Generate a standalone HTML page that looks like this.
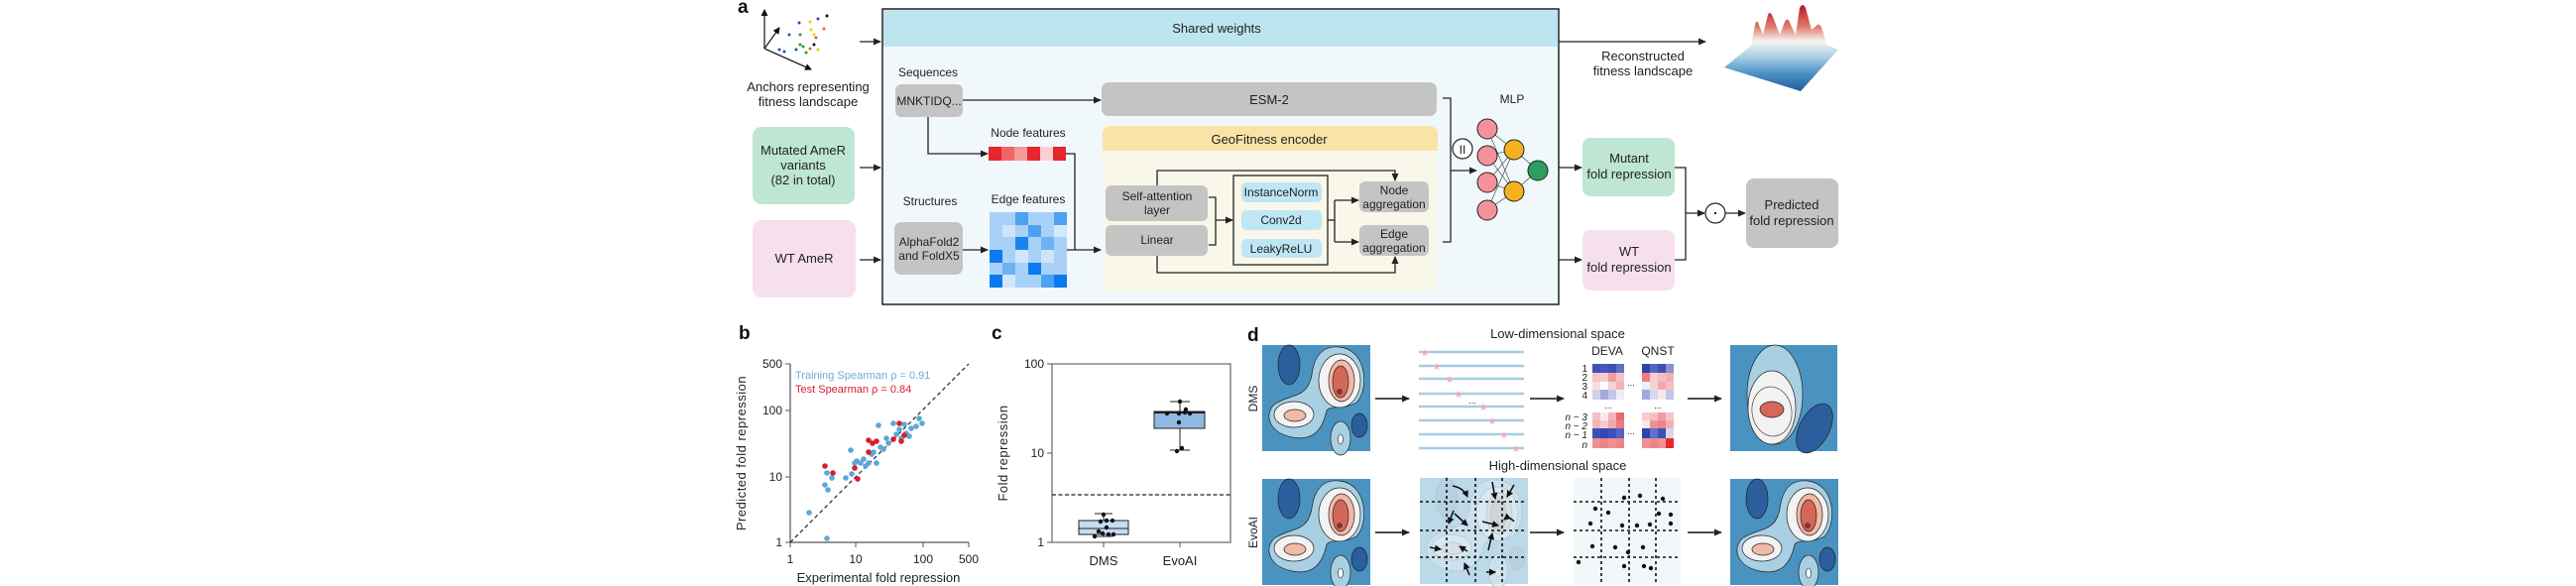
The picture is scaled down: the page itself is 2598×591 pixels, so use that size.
<!DOCTYPE html>
<html><head><meta charset="utf-8"><style>
html,body{margin:0;padding:0;background:#fff;}
svg{display:block;}
text{font-family:"Liberation Sans",Arial,sans-serif;fill:#222;}
</style></head><body>
<svg width="2598" height="591" viewBox="0 0 2598 591" xmlns="http://www.w3.org/2000/svg">
<defs>
<marker id="ah" markerWidth="8" markerHeight="8" refX="7" refY="4" orient="auto" markerUnits="userSpaceOnUse"><path d="M0,0.5 L8,4 L0,7.5 Z" fill="#222"/></marker>
<marker id="ah2" markerWidth="7" markerHeight="7" refX="6" refY="3.5" orient="auto" markerUnits="userSpaceOnUse"><path d="M0,0 L7,3.5 L0,7 Z" fill="#111"/></marker>
<linearGradient id="land" x1="0" y1="0" x2="0" y2="1">
<stop offset="0" stop-color="#b2182b"/><stop offset="0.25" stop-color="#e07a6a"/><stop offset="0.42" stop-color="#f7f4f2"/><stop offset="0.6" stop-color="#a9cfe4"/><stop offset="0.8" stop-color="#4a90c4"/><stop offset="1" stop-color="#1f5d9e"/>
</linearGradient>
<g id="map">
<rect x="0" y="0" width="109" height="107" fill="#4a93c1"/>
<ellipse cx="27" cy="20" rx="11" ry="20" fill="#2b5e9c" stroke="#222" stroke-width="0.7"/>
<path d="M50,30 C45,55 30,48 12,60 C2,70 6,88 30,93 C55,98 62,80 65,66 C70,60 80,66 95,58 C108,45 106,5 78,2 C58,0 52,15 50,30 Z" fill="#a9cfe3" stroke="#222" stroke-width="0.7"/>
<ellipse cx="79" cy="94" rx="10" ry="17" fill="#a9cfe3" stroke="#222" stroke-width="0.7"/>
<ellipse cx="79" cy="95" rx="2.5" ry="5" fill="#fff" stroke="#222" stroke-width="0.6"/>
<ellipse cx="98" cy="81" rx="8" ry="12" fill="#2b5e9c" stroke="#222" stroke-width="0.7"/>
<ellipse cx="78" cy="36" rx="21" ry="27" fill="#f4f3f3" stroke="#222" stroke-width="0.7"/>
<ellipse cx="80" cy="36" rx="13" ry="21" fill="#f2b9a6" stroke="#222" stroke-width="0.7"/>
<ellipse cx="79" cy="37" rx="8" ry="16" fill="#d4675a" stroke="#222" stroke-width="0.7"/>
<circle cx="78" cy="47" r="2.5" fill="#9b2a2a" stroke="#222" stroke-width="0.5"/>
<ellipse cx="32" cy="70" rx="20" ry="13" fill="#f4f3f3" stroke="#222" stroke-width="0.7"/>
<ellipse cx="33" cy="71" rx="11" ry="6" fill="#f2b9a6" stroke="#222" stroke-width="0.7"/>
</g>
</defs>

<!-- ===== Panel a ===== -->
<text x="744" y="13" font-size="19" font-weight="bold" style="fill:#111">a</text>
<line x1="771" y1="49" x2="771" y2="10" stroke="#222" stroke-width="1.3" marker-end="url(#ah2)"/>
<line x1="771" y1="49" x2="818" y2="70" stroke="#222" stroke-width="1.3" marker-end="url(#ah2)"/>
<line x1="771" y1="49" x2="786" y2="28" stroke="#222" stroke-width="1.3" marker-end="url(#ah2)"/>
<g>
<circle cx="806" cy="23" r="1.5" fill="#1f4fb0"/><circle cx="817" cy="22" r="1.5" fill="#f0d000"/><circle cx="825" cy="19" r="1.5" fill="#1f4fb0"/><circle cx="834" cy="16" r="1.5" fill="#111"/><circle cx="831" cy="29" r="1.5" fill="#f06010"/><circle cx="818" cy="30" r="1.5" fill="#f0d000"/><circle cx="796" cy="35" r="1.5" fill="#1f4fb0"/><circle cx="807" cy="35" r="1.5" fill="#20a040"/><circle cx="821" cy="35" r="1.5" fill="#f0d000"/><circle cx="823" cy="38" r="1.5" fill="#f06010"/><circle cx="821" cy="45" r="1.5" fill="#111"/><circle cx="807" cy="45" r="1.5" fill="#20a040"/><circle cx="810" cy="47" r="1.5" fill="#20a040"/><circle cx="817" cy="49" r="1.5" fill="#f06010"/><circle cx="825" cy="50" r="1.5" fill="#f0d000"/><circle cx="803" cy="50" r="1.5" fill="#1f4fb0"/><circle cx="813" cy="53" r="1.5" fill="#20a040"/><circle cx="786" cy="50" r="1.5" fill="#1f4fb0"/><circle cx="791" cy="52" r="1.5" fill="#1f4fb0"/>
</g>
<text x="815" y="92" font-size="13" text-anchor="middle">Anchors representing</text>
<text x="815" y="107" font-size="13" text-anchor="middle">fitness landscape</text>
<line x1="867" y1="42" x2="888" y2="42" stroke="#222" stroke-width="1.3" marker-end="url(#ah)"/>

<rect x="759" y="128" width="103" height="78" rx="9" fill="#bfe6d2"/>
<text x="810" y="156" font-size="13" text-anchor="middle">Mutated AmeR</text>
<text x="810" y="171" font-size="13" text-anchor="middle">variants</text>
<text x="810" y="186" font-size="13" text-anchor="middle">(82 in total)</text>
<line x1="867" y1="169" x2="888" y2="169" stroke="#222" stroke-width="1.3" marker-end="url(#ah)"/>
<rect x="759" y="222" width="104" height="78" rx="9" fill="#f7e0ee"/>
<text x="811" y="265" font-size="13" text-anchor="middle">WT AmeR</text>
<line x1="867" y1="262" x2="888" y2="262" stroke="#222" stroke-width="1.3" marker-end="url(#ah)"/>

<!-- main box -->
<rect x="890" y="9" width="682" height="298" fill="#f1f8fc" stroke="#222" stroke-width="1.5"/>
<rect x="891" y="10" width="680" height="37" fill="#bde5f0"/>
<text x="1227" y="33" font-size="13" text-anchor="middle">Shared weights</text>

<text x="936" y="77" font-size="12" text-anchor="middle">Sequences</text>
<rect x="903" y="85" width="68" height="33" rx="6" fill="#c4c4c4"/>
<text x="937" y="106" font-size="12" text-anchor="middle">MNKTIDQ...</text>
<line x1="971" y1="101" x2="1110" y2="101" stroke="#222" stroke-width="1.3" marker-end="url(#ah)"/>
<rect x="1111" y="83" width="338" height="34" rx="7" fill="#c4c4c4"/>
<text x="1280" y="105" font-size="13" text-anchor="middle">ESM-2</text>

<text x="1037" y="138" font-size="12" text-anchor="middle">Node features</text>
<polyline points="936,118 936,155 996,155" fill="none" stroke="#222" stroke-width="1.3" marker-end="url(#ah)"/>
<rect x="997" y="148" width="13" height="14" fill="#e8252b"/><rect x="1010" y="148" width="13" height="14" fill="#f06565"/><rect x="1023" y="148" width="13" height="14" fill="#f49a9a"/><rect x="1036" y="148" width="13" height="14" fill="#e8252b"/><rect x="1049" y="148" width="13" height="14" fill="#fbd0d0"/><rect x="1062" y="148" width="13" height="14" fill="#e8252b"/>
<polyline points="1075,155 1084,155 1084,252" fill="none" stroke="#222" stroke-width="1.3"/>

<text x="938" y="207" font-size="12" text-anchor="middle">Structures</text>
<text x="1037" y="205" font-size="12" text-anchor="middle">Edge features</text>
<rect x="902" y="224" width="69" height="53" rx="7" fill="#c4c4c4"/>
<text x="937" y="248" font-size="12" text-anchor="middle">AlphaFold2</text>
<text x="937" y="262" font-size="12" text-anchor="middle">and FoldX5</text>
<line x1="971" y1="252" x2="996" y2="252" stroke="#222" stroke-width="1.3" marker-end="url(#ah)"/>
<g>
<rect x="998" y="214" width="78" height="76" fill="#a9d1f7"/>
<rect x="1024" y="214" width="13" height="13" fill="#4ea0f0"/><rect x="1063" y="214" width="13" height="13" fill="#4ea0f0"/>
<rect x="1011" y="227" width="13" height="12" fill="#cfe4f9"/><rect x="1037" y="227" width="13" height="12" fill="#4ea0f0"/><rect x="1063" y="227" width="13" height="12" fill="#d4e8fb"/>
<rect x="1024" y="239" width="13" height="13" fill="#1a84ee"/><rect x="1050" y="239" width="13" height="13" fill="#6fb2f3"/>
<rect x="998" y="252" width="13" height="13" fill="#0a7af0"/><rect x="1024" y="252" width="13" height="13" fill="#d0e6fa"/><rect x="1050" y="252" width="13" height="13" fill="#cfe4f9"/>
<rect x="1011" y="265" width="13" height="12" fill="#6fb2f3"/><rect x="1037" y="265" width="13" height="12" fill="#0a7af0"/>
<rect x="998" y="277" width="13" height="13" fill="#0a7af0"/><rect x="1011" y="277" width="13" height="13" fill="#d0e6fa"/><rect x="1050" y="277" width="13" height="13" fill="#4ea0f0"/><rect x="1063" y="277" width="13" height="13" fill="#0a7af0"/>
</g>
<line x1="1076" y1="252" x2="1110" y2="252" stroke="#222" stroke-width="1.3" marker-end="url(#ah)"/>

<!-- GeoFitness -->
<rect x="1112" y="127" width="338" height="167" rx="8" fill="#f8f7e9"/>
<path d="M1120,127 H1442 A8,8 0 0 1 1450,135 V152 H1112 V135 A8,8 0 0 1 1120,127 Z" fill="#f9e3a6"/>
<text x="1280" y="145" font-size="13" text-anchor="middle">GeoFitness encoder</text>
<rect x="1115" y="187" width="103" height="36" rx="6" fill="#c4c4c4"/>
<text x="1167" y="202" font-size="12" text-anchor="middle">Self-attention</text>
<text x="1167" y="216" font-size="12" text-anchor="middle">layer</text>
<rect x="1115" y="227" width="103" height="31" rx="6" fill="#c4c4c4"/>
<text x="1167" y="246" font-size="12" text-anchor="middle">Linear</text>
<polyline points="1219,199 1226,199 1226,247 1219,247" fill="none" stroke="#222" stroke-width="1.3"/>
<line x1="1226" y1="222" x2="1243" y2="222" stroke="#222" stroke-width="1.3" marker-end="url(#ah)"/>
<rect x="1244" y="177" width="95" height="90" fill="none" stroke="#222" stroke-width="1.3"/>
<rect x="1252" y="184" width="81" height="20" rx="5" fill="#bfe6f5"/>
<text x="1292" y="198" font-size="12" text-anchor="middle">InstanceNorm</text>
<rect x="1252" y="212" width="81" height="20" rx="5" fill="#bfe6f5"/>
<text x="1292" y="226" font-size="12" text-anchor="middle">Conv2d</text>
<rect x="1252" y="241" width="81" height="19" rx="5" fill="#bfe6f5"/>
<text x="1292" y="255" font-size="12" text-anchor="middle">LeakyReLU</text>
<line x1="1339" y1="222" x2="1346" y2="222" stroke="#222" stroke-width="1.3"/>
<polyline points="1346,202 1346,244" fill="none" stroke="#222" stroke-width="1.3"/>
<line x1="1346" y1="202" x2="1370" y2="202" stroke="#222" stroke-width="1.3" marker-end="url(#ah)"/>
<line x1="1346" y1="244" x2="1370" y2="244" stroke="#222" stroke-width="1.3" marker-end="url(#ah)"/>
<rect x="1371" y="183" width="70" height="31" rx="6" fill="#c4c4c4"/>
<text x="1406" y="196" font-size="12" text-anchor="middle">Node</text>
<text x="1406" y="210" font-size="12" text-anchor="middle">aggregation</text>
<rect x="1371" y="227" width="70" height="31" rx="6" fill="#c4c4c4"/>
<text x="1406" y="240" font-size="12" text-anchor="middle">Edge</text>
<text x="1406" y="254" font-size="12" text-anchor="middle">aggregation</text>
<polyline points="1167,187 1167,172 1407,172 1407,182" fill="none" stroke="#222" stroke-width="1.3" marker-end="url(#ah)"/>
<polyline points="1167,258 1167,275 1407,275 1407,259" fill="none" stroke="#222" stroke-width="1.3" marker-end="url(#ah)"/>

<polyline points="1455,99 1463,99 1463,244 1455,244" fill="none" stroke="#222" stroke-width="1.3"/>
<line x1="1463" y1="172" x2="1489" y2="172" stroke="#222" stroke-width="1.3" marker-end="url(#ah)"/>
<circle cx="1475" cy="150" r="10" fill="#fff" stroke="#222" stroke-width="1.2"/>
<text x="1475" y="155" font-size="12" text-anchor="middle">II</text>
<text x="1525" y="104" font-size="12" text-anchor="middle">MLP</text>
<g stroke="#333" stroke-width="0.6">
<line x1="1500" y1="130" x2="1527" y2="151"/><line x1="1500" y1="130" x2="1527" y2="193"/>
<line x1="1500" y1="157" x2="1527" y2="151"/><line x1="1500" y1="157" x2="1527" y2="193"/>
<line x1="1500" y1="184" x2="1527" y2="151"/><line x1="1500" y1="184" x2="1527" y2="193"/>
<line x1="1500" y1="212" x2="1527" y2="151"/><line x1="1500" y1="212" x2="1527" y2="193"/>
<line x1="1527" y1="151" x2="1551" y2="172"/><line x1="1527" y1="193" x2="1551" y2="172"/>
</g>
<g stroke="#222" stroke-width="1">
<circle cx="1500" cy="130" r="10" fill="#f4919a"/><circle cx="1500" cy="157" r="10" fill="#f4919a"/><circle cx="1500" cy="184" r="10" fill="#f4919a"/><circle cx="1500" cy="212" r="10" fill="#f4919a"/>
<circle cx="1527" cy="151" r="10" fill="#f5b21f"/><circle cx="1527" cy="193" r="10" fill="#f5b21f"/>
<circle cx="1551" cy="172" r="10" fill="#2e9e5e"/>
</g>

<line x1="1572" y1="42" x2="1720" y2="42" stroke="#222" stroke-width="1.3" marker-end="url(#ah)"/>
<text x="1657" y="61" font-size="13" text-anchor="middle">Reconstructed</text>
<text x="1657" y="76" font-size="13" text-anchor="middle">fitness landscape</text>
<path d="M1739,68 L1766,46 L1770,25 Q1772,18 1774,25 L1778,35 L1783,15 Q1785,10 1788,17 L1795,35 L1800,22 Q1803,16 1806,25 L1811,35 L1815,8 Q1818,2 1821,8 L1827,30 L1832,26 Q1835,22 1838,30 L1842,45 L1854,50 L1816,92 Z" fill="url(#land)"/>

<line x1="1572" y1="169" x2="1595" y2="169" stroke="#222" stroke-width="1.3" marker-end="url(#ah)"/>
<rect x="1596" y="139" width="93" height="59" rx="8" fill="#bfe6d2"/>
<text x="1643" y="164" font-size="13" text-anchor="middle">Mutant</text>
<text x="1643" y="180" font-size="13" text-anchor="middle">fold repression</text>
<line x1="1572" y1="262" x2="1595" y2="262" stroke="#222" stroke-width="1.3" marker-end="url(#ah)"/>
<rect x="1596" y="232" width="93" height="61" rx="8" fill="#f7e0ee"/>
<text x="1643" y="258" font-size="13" text-anchor="middle">WT</text>
<text x="1643" y="274" font-size="13" text-anchor="middle">fold repression</text>
<polyline points="1689,169 1700,169 1700,262 1689,262" fill="none" stroke="#222" stroke-width="1.3"/>
<line x1="1700" y1="215" x2="1719" y2="215" stroke="#222" stroke-width="1.3" marker-end="url(#ah)"/>
<circle cx="1730" cy="215" r="10" fill="#fff" stroke="#222" stroke-width="1.2"/>
<circle cx="1730" cy="215" r="1.2" fill="#222"/>
<line x1="1740" y1="215" x2="1760" y2="215" stroke="#222" stroke-width="1.3" marker-end="url(#ah)"/>
<rect x="1761" y="180" width="93" height="70" rx="8" fill="#c4c4c4"/>
<text x="1807" y="211" font-size="13" text-anchor="middle">Predicted</text>
<text x="1807" y="227" font-size="13" text-anchor="middle">fold repression</text>

<!-- ===== Panel b ===== -->
<text x="745" y="342" font-size="19" font-weight="bold" style="fill:#111">b</text>
<line x1="797" y1="367" x2="797" y2="547" stroke="#555" stroke-width="1.2"/>
<line x1="797" y1="547" x2="977" y2="547" stroke="#555" stroke-width="1.2"/>
<g stroke="#555" stroke-width="1">
<line x1="792" y1="367" x2="797" y2="367"/><line x1="792" y1="414" x2="797" y2="414"/><line x1="792" y1="481" x2="797" y2="481"/><line x1="792" y1="547" x2="797" y2="547"/>
<line x1="797" y1="547" x2="797" y2="552"/><line x1="863" y1="547" x2="863" y2="552"/><line x1="931" y1="547" x2="931" y2="552"/><line x1="977" y1="547" x2="977" y2="552"/>
</g>
<g font-size="12" text-anchor="end">
<text x="789" y="371">500</text><text x="789" y="418">100</text><text x="789" y="485">10</text><text x="789" y="551">1</text>
</g>
<g font-size="12" text-anchor="middle">
<text x="797" y="568">1</text><text x="863" y="568">10</text><text x="931" y="568">100</text><text x="977" y="568">500</text>
</g>
<text x="886" y="587" font-size="13" text-anchor="middle">Experimental fold repression</text>
<text transform="translate(752,457) rotate(-90)" font-size="13" text-anchor="middle" letter-spacing="0.5">Predicted fold repression</text>
<line x1="797" y1="547" x2="977" y2="367" stroke="#222" stroke-width="1.2" stroke-dasharray="4,3"/>
<text x="802" y="382" font-size="11" style="fill:#6aaedc">Training Spearman ρ = 0.91</text>
<text x="802" y="396" font-size="11" style="fill:#d81e2a">Test Spearman ρ = 0.84</text>
<g fill="#5ba8d8">
<circle cx="816" cy="517" r="2.8"/><circle cx="834" cy="543" r="2.8"/><circle cx="832" cy="489" r="2.8"/><circle cx="834" cy="477" r="2.8"/><circle cx="835" cy="494" r="2.8"/><circle cx="839" cy="482" r="2.8"/><circle cx="853" cy="482" r="2.8"/><circle cx="859" cy="478" r="2.8"/><circle cx="858" cy="454" r="2.8"/><circle cx="862" cy="467" r="2.8"/><circle cx="864" cy="465" r="2.8"/><circle cx="868" cy="467" r="2.8"/><circle cx="871" cy="463" r="2.8"/><circle cx="876" cy="467" r="2.8"/><circle cx="879" cy="458" r="2.8"/><circle cx="881" cy="456" r="2.8"/><circle cx="886" cy="429" r="2.8"/><circle cx="888" cy="451" r="2.8"/><circle cx="891" cy="453" r="2.8"/><circle cx="894" cy="442" r="2.8"/><circle cx="896" cy="447" r="2.8"/><circle cx="901" cy="427" r="2.8"/><circle cx="904" cy="438" r="2.8"/><circle cx="907" cy="433" r="2.8"/><circle cx="909" cy="442" r="2.8"/><circle cx="914" cy="437" r="2.8"/><circle cx="917" cy="440" r="2.8"/><circle cx="919" cy="432" r="2.8"/><circle cx="924" cy="430" r="2.8"/><circle cx="927" cy="422" r="2.8"/><circle cx="930" cy="427" r="2.8"/><circle cx="912" cy="428" r="2.8"/><circle cx="884" cy="467" r="2.8"/><circle cx="873" cy="470" r="2.8"/>
</g>
<g fill="#d81e2a">
<circle cx="832" cy="470" r="2.8"/><circle cx="840" cy="477" r="2.8"/><circle cx="862" cy="472" r="2.8"/><circle cx="865" cy="483" r="2.8"/><circle cx="876" cy="444" r="2.8"/><circle cx="880" cy="447" r="2.8"/><circle cx="884" cy="445" r="2.8"/><circle cx="876" cy="456" r="2.8"/><circle cx="907" cy="427" r="2.8"/><circle cx="901" cy="443" r="2.8"/><circle cx="909" cy="445" r="2.8"/><circle cx="912" cy="439" r="2.8"/>
</g>

<!-- ===== Panel c ===== -->
<text x="1000" y="342" font-size="19" font-weight="bold" style="fill:#111">c</text>
<rect x="1061" y="367" width="180" height="180" fill="none" stroke="#666" stroke-width="1.2"/>
<g stroke="#555" stroke-width="1">
<line x1="1056" y1="367" x2="1061" y2="367"/><line x1="1056" y1="457" x2="1061" y2="457"/><line x1="1056" y1="547" x2="1061" y2="547"/>
<line x1="1113" y1="547" x2="1113" y2="552"/><line x1="1190" y1="547" x2="1190" y2="552"/>
</g>
<g font-size="12" text-anchor="end"><text x="1053" y="371">100</text><text x="1053" y="461">10</text><text x="1053" y="551">1</text></g>
<text transform="translate(1016,457) rotate(-90)" font-size="13" text-anchor="middle" letter-spacing="0.5">Fold repression</text>
<g font-size="13" text-anchor="middle"><text x="1113" y="570">DMS</text><text x="1190" y="570">EvoAI</text></g>
<line x1="1061" y1="499" x2="1241" y2="499" stroke="#222" stroke-width="1.2" stroke-dasharray="4,2.5"/>
<g stroke="#222" stroke-width="1">
<line x1="1113" y1="518" x2="1113" y2="541"/><line x1="1104" y1="518" x2="1122" y2="518"/><line x1="1104" y1="541" x2="1122" y2="541"/>
<rect x="1088" y="525" width="50" height="14" fill="#c5dcf3"/>
<line x1="1088" y1="533" x2="1138" y2="533"/>
<line x1="1190" y1="405" x2="1190" y2="454"/><line x1="1180" y1="405" x2="1200" y2="405"/><line x1="1180" y1="454" x2="1200" y2="454"/>
<rect x="1164" y="415" width="51" height="17" fill="#8fb8e3"/>
<line x1="1164" y1="416" x2="1215" y2="416" stroke-width="2"/>
</g>
<g fill="#111">
<circle cx="1113" cy="519" r="2.2"/><circle cx="1110" cy="526" r="2.2"/><circle cx="1116" cy="525" r="2.2"/><circle cx="1122" cy="525" r="2.2"/><circle cx="1116" cy="532" r="2.2"/><circle cx="1108" cy="536" r="2.2"/><circle cx="1112" cy="538" r="2.2"/><circle cx="1118" cy="539" r="2.2"/><circle cx="1123" cy="539" r="2.2"/><circle cx="1104" cy="541" r="2.2"/>
<circle cx="1190" cy="405" r="2.2"/><circle cx="1177" cy="417" r="2.2"/><circle cx="1189" cy="417" r="2.2"/><circle cx="1195" cy="416" r="2.2"/><circle cx="1200" cy="417" r="2.2"/><circle cx="1196" cy="413" r="2.2"/><circle cx="1189" cy="426" r="2.2"/><circle cx="1192" cy="452" r="2.2"/><circle cx="1187" cy="455" r="2.2"/>
</g>

<!-- ===== Panel d ===== -->
<text x="1258" y="344" font-size="19" font-weight="bold" style="fill:#111">d</text>
<text x="1571" y="341" font-size="13" text-anchor="middle">Low-dimensional space</text>
<text x="1571" y="474" font-size="13" text-anchor="middle">High-dimensional space</text>
<text transform="translate(1268,402) rotate(-90)" font-size="12" text-anchor="middle">DMS</text>
<text transform="translate(1268,537) rotate(-90)" font-size="12" text-anchor="middle">EvoAI</text>
<use href="#map" x="1273" y="348"/>
<use href="#map" x="1273" y="483"/>
<use href="#map" x="1745" y="483"/>
<!-- low-dim result map -->
<g transform="translate(1745,348)">
<rect x="0" y="0" width="108" height="107" fill="#4a93c1"/>
<ellipse cx="45" cy="50" rx="28" ry="50" fill="#a9cfe3" stroke="#222" stroke-width="0.7"/>
<ellipse cx="42" cy="63" rx="24" ry="37" fill="#f3f2f2" stroke="#222" stroke-width="0.7"/>
<ellipse cx="42" cy="67" rx="20" ry="25" fill="none" stroke="#444" stroke-width="0.7" transform="rotate(-8 42 67)"/>
<ellipse cx="42" cy="65" rx="12" ry="8" fill="#d4675a" stroke="#222" stroke-width="0.7"/>
<ellipse cx="85" cy="84" rx="15" ry="27" fill="#2b5e9c" stroke="#222" stroke-width="0.7" transform="rotate(28 85 84)"/>
</g>
<g stroke="#111" stroke-width="1.5">
<line x1="1387" y1="402" x2="1421" y2="402" marker-end="url(#ah)"/>
<line x1="1543" y1="402" x2="1577" y2="402" marker-end="url(#ah)"/>
<line x1="1702" y1="402" x2="1736" y2="402" marker-end="url(#ah)"/>
<line x1="1387" y1="537" x2="1421" y2="537" marker-end="url(#ah)"/>
<line x1="1543" y1="537" x2="1577" y2="537" marker-end="url(#ah)"/>
<line x1="1702" y1="537" x2="1736" y2="537" marker-end="url(#ah)"/>
</g>
<!-- lines with stars -->
<g stroke="#a6cde2" stroke-width="2.5">
<line x1="1431" y1="355" x2="1537" y2="355"/><line x1="1431" y1="369" x2="1537" y2="369"/><line x1="1431" y1="382" x2="1537" y2="382"/><line x1="1431" y1="397" x2="1537" y2="397"/><line x1="1431" y1="410" x2="1537" y2="410"/><line x1="1431" y1="424" x2="1537" y2="424"/><line x1="1431" y1="438" x2="1537" y2="438"/><line x1="1431" y1="452" x2="1537" y2="452"/>
</g>
<g font-size="10" text-anchor="middle" style="fill:#f4a8b4">
<text x="1437" y="359" style="fill:#f4a8b4">★</text><text x="1449" y="373" style="fill:#f4a8b4">★</text><text x="1462" y="386" style="fill:#f4a8b4">★</text><text x="1471" y="401" style="fill:#f4a8b4">★</text><text x="1496" y="414" style="fill:#f4a8b4">★</text><text x="1505" y="428" style="fill:#f4a8b4">★</text><text x="1517" y="442" style="fill:#f4a8b4">★</text><text x="1529" y="456" style="fill:#f4a8b4">★</text>
</g>
<text x="1485" y="407" font-size="9" text-anchor="middle">...</text>
<!-- heatmaps -->
<text x="1621" y="358" font-size="12" text-anchor="middle">DEVA</text>
<text x="1672" y="358" font-size="12" text-anchor="middle">QNST</text>
<g font-size="10" text-anchor="end">
<text x="1601" y="375">1</text><text x="1601" y="384">2</text><text x="1601" y="393">3</text><text x="1601" y="402">4</text>
<text x="1601" y="424" font-style="italic">n − 3</text><text x="1601" y="433" font-style="italic">n − 2</text><text x="1601" y="442" font-style="italic">n − 1</text><text x="1601" y="452" font-style="italic">n</text>
</g>
<g>
<!-- DEVA top -->
<rect x="1606" y="367" width="8" height="9" fill="#3f4fb8"/><rect x="1614" y="367" width="8" height="9" fill="#4656bc"/><rect x="1622" y="367" width="8" height="9" fill="#3f4fb8"/><rect x="1630" y="367" width="8" height="9" fill="#6270c4"/>
<rect x="1606" y="376" width="8" height="9" fill="#f4c4c8"/><rect x="1614" y="376" width="8" height="9" fill="#f6cccf"/><rect x="1622" y="376" width="8" height="9" fill="#ee9ea2"/><rect x="1630" y="376" width="8" height="9" fill="#f4c0c4"/>
<rect x="1606" y="385" width="8" height="8" fill="#f9dee0"/><rect x="1614" y="385" width="8" height="8" fill="#ffffff"/><rect x="1622" y="385" width="8" height="8" fill="#f6d2d4"/><rect x="1630" y="385" width="8" height="8" fill="#f2b4b8"/>
<rect x="1606" y="393" width="8" height="10" fill="#cfd0ec"/><rect x="1614" y="393" width="8" height="10" fill="#a4a8da"/><rect x="1622" y="393" width="8" height="10" fill="#c3c6e6"/><rect x="1630" y="393" width="8" height="10" fill="#eeeef8"/>
<!-- QNST top -->
<rect x="1656" y="367" width="8" height="9" fill="#2d44b0"/><rect x="1664" y="367" width="8" height="9" fill="#5564c0"/><rect x="1672" y="367" width="8" height="9" fill="#3f4fb8"/><rect x="1680" y="367" width="8" height="9" fill="#8a90d0"/>
<rect x="1656" y="376" width="8" height="9" fill="#ec7c80"/><rect x="1664" y="376" width="8" height="9" fill="#f6cccf"/><rect x="1672" y="376" width="8" height="9" fill="#f4c0c4"/><rect x="1680" y="376" width="8" height="9" fill="#f2b0b4"/>
<rect x="1656" y="385" width="8" height="8" fill="#eef0f8"/><rect x="1664" y="385" width="8" height="8" fill="#f6d2d4"/><rect x="1672" y="385" width="8" height="8" fill="#f0a8ac"/><rect x="1680" y="385" width="8" height="8" fill="#f4c0c4"/>
<rect x="1656" y="393" width="8" height="10" fill="#a4a8da"/><rect x="1664" y="393" width="8" height="10" fill="#d6d8f0"/><rect x="1672" y="393" width="8" height="10" fill="#fbe6e8"/><rect x="1680" y="393" width="8" height="10" fill="#c3c6e6"/>
<!-- DEVA bottom -->
<rect x="1606" y="416" width="8" height="8" fill="#f4c0c4"/><rect x="1614" y="416" width="8" height="8" fill="#fbeaec"/><rect x="1622" y="416" width="8" height="8" fill="#f2b4b8"/><rect x="1630" y="416" width="8" height="8" fill="#ea6c70"/>
<rect x="1606" y="424" width="8" height="8" fill="#f2b4b8"/><rect x="1614" y="424" width="8" height="8" fill="#f6cccf"/><rect x="1622" y="424" width="8" height="8" fill="#f0a8ac"/><rect x="1630" y="424" width="8" height="8" fill="#ec7c80"/>
<rect x="1606" y="432" width="8" height="10" fill="#3f4fb8"/><rect x="1614" y="432" width="8" height="10" fill="#3446b2"/><rect x="1622" y="432" width="8" height="10" fill="#3f4fb8"/><rect x="1630" y="432" width="8" height="10" fill="#5564c0"/>
<rect x="1606" y="442" width="8" height="10" fill="#ee9094"/><rect x="1614" y="442" width="8" height="10" fill="#ec8488"/><rect x="1622" y="442" width="8" height="10" fill="#ee9094"/><rect x="1630" y="442" width="8" height="10" fill="#ec8488"/>
<!-- QNST bottom -->
<rect x="1656" y="416" width="8" height="8" fill="#f6cccf"/><rect x="1664" y="416" width="8" height="8" fill="#f4c0c4"/><rect x="1672" y="416" width="8" height="8" fill="#ee9ea2"/><rect x="1680" y="416" width="8" height="8" fill="#f4c4c8"/>
<rect x="1656" y="424" width="8" height="8" fill="#fbe6e8"/><rect x="1664" y="424" width="8" height="8" fill="#ee9094"/><rect x="1672" y="424" width="8" height="8" fill="#ec8488"/><rect x="1680" y="424" width="8" height="8" fill="#f2b0b4"/>
<rect x="1656" y="432" width="8" height="10" fill="#2d44b0"/><rect x="1664" y="432" width="8" height="10" fill="#6270c4"/><rect x="1672" y="432" width="8" height="10" fill="#3f4fb8"/><rect x="1680" y="432" width="8" height="10" fill="#d6d8f0"/>
<rect x="1656" y="442" width="8" height="10" fill="#ee9094"/><rect x="1664" y="442" width="8" height="10" fill="#ec8488"/><rect x="1672" y="442" width="8" height="10" fill="#ee9094"/><rect x="1680" y="442" width="8" height="10" fill="#e52a2a"/>
</g>
<g font-size="9" text-anchor="middle"><text x="1645" y="389">...</text><text x="1645" y="438">...</text><text x="1622" y="412">...</text><text x="1672" y="412">...</text></g>

<!-- EvoAI panel 2 -->
<g transform="translate(1432,482)">
<use href="#map" x="0" y="0" opacity="0.35"/>
<rect x="0" y="0" width="109" height="107" fill="#b9d8e8" opacity="0.55"/>
</g>
<g stroke="#111" stroke-width="1.6" stroke-dasharray="3,3">
<line x1="1459" y1="482" x2="1459" y2="590"/><line x1="1488" y1="482" x2="1488" y2="590"/><line x1="1515" y1="482" x2="1515" y2="590"/>
<line x1="1432" y1="506" x2="1539" y2="506"/><line x1="1432" y1="535" x2="1539" y2="535"/><line x1="1432" y1="562" x2="1539" y2="562"/>
</g>
<g stroke="#111" stroke-width="1.6" fill="none">
<path d="M1465,490 Q1476,492 1480,501" marker-end="url(#ah2)"/>
<path d="M1505,486 L1508,503" marker-end="url(#ah2)"/>
<path d="M1527,489 L1520,501" marker-end="url(#ah2)"/>
<path d="M1467,518 L1480,530" marker-end="url(#ah2)"/>
<path d="M1466,515 L1461,528" marker-end="url(#ah2)"/>
<path d="M1495,526 L1511,530" marker-end="url(#ah2)"/>
<path d="M1527,526 Q1522,520 1517,524" marker-end="url(#ah2)"/>
<path d="M1442,552 L1453,554" marker-end="url(#ah2)"/>
<path d="M1480,556 L1472,551" marker-end="url(#ah2)"/>
<path d="M1501,555 L1505,538" marker-end="url(#ah2)"/>
<path d="M1482,580 L1477,568" marker-end="url(#ah2)"/>
<path d="M1499,577 L1508,577" marker-end="url(#ah2)"/>
</g>
<!-- EvoAI panel 3 -->
<rect x="1587" y="482" width="108" height="108" fill="#f2f7fa"/>
<g stroke="#111" stroke-width="1.6" stroke-dasharray="3,3">
<line x1="1615" y1="482" x2="1615" y2="590"/><line x1="1643" y1="482" x2="1643" y2="590"/><line x1="1670" y1="482" x2="1670" y2="590"/>
<line x1="1587" y1="506" x2="1695" y2="506"/><line x1="1587" y1="535" x2="1695" y2="535"/><line x1="1587" y1="562" x2="1695" y2="562"/>
</g>
<g fill="#111">
<circle cx="1638" cy="502" r="2.2"/><circle cx="1654" cy="500" r="2.2"/><circle cx="1677" cy="503" r="2.2"/><circle cx="1609" cy="513" r="2.2"/><circle cx="1622" cy="517" r="2.2"/><circle cx="1673" cy="518" r="2.2"/><circle cx="1685" cy="519" r="2.2"/><circle cx="1604" cy="528" r="2.2"/><circle cx="1636" cy="530" r="2.2"/><circle cx="1651" cy="530" r="2.2"/><circle cx="1664" cy="529" r="2.2"/><circle cx="1685" cy="528" r="2.2"/><circle cx="1606" cy="551" r="2.2"/><circle cx="1629" cy="552" r="2.2"/><circle cx="1642" cy="557" r="2.2"/><circle cx="1657" cy="552" r="2.2"/><circle cx="1592" cy="567" r="2.2"/><circle cx="1638" cy="571" r="2.2"/><circle cx="1658" cy="571" r="2.2"/><circle cx="1665" cy="573" r="2.2"/>
</g>
</svg>
</body></html>
